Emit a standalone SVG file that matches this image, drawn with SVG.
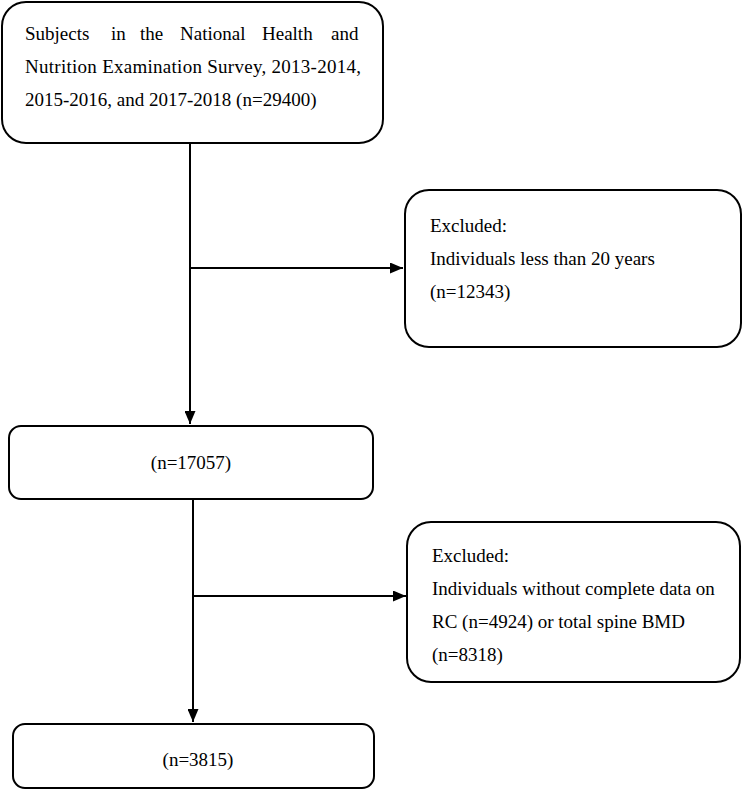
<svg xmlns="http://www.w3.org/2000/svg" width="744" height="790" viewBox="0 0 744 790">
<style>
.box{fill:#fff;stroke:#000;stroke-width:2}
.t{font-family:"Liberation Serif","Times New Roman",serif;font-size:19px;fill:#000}
.c{text-anchor:middle}
.ln{stroke:#000;stroke-width:2;fill:none}
</style>
<defs>
<marker id="ah" markerWidth="13" markerHeight="11" refX="13" refY="5.5" orient="auto" markerUnits="userSpaceOnUse">
<path d="M0,0 L13,5.5 L0,11 Z" fill="#000"/>
</marker>
</defs>
<rect width="744" height="790" fill="#fff"/>
<g id="connectors">
<line class="ln" x1="190" y1="143" x2="190" y2="424" marker-end="url(#ah)"/>
<line class="ln" x1="190" y1="268" x2="403" y2="268" marker-end="url(#ah)"/>
<line class="ln" x1="193" y1="499" x2="193" y2="722" marker-end="url(#ah)"/>
<line class="ln" x1="193" y1="596" x2="406" y2="596" marker-end="url(#ah)"/>
</g>
<g id="n1">
<rect class="box" x="2" y="2" width="381" height="141" rx="24"/>
<text class="t" y="40"><tspan x="25">Subjects</tspan><tspan x="111">in</tspan><tspan x="140">the</tspan><tspan x="180">National</tspan><tspan x="262">Health</tspan><tspan x="331">and</tspan></text>
<text class="t" x="25" y="73" textLength="336" lengthAdjust="spacing">Nutrition Examination Survey, 2013-2014,</text>
<text class="t" x="25" y="106">2015-2016, and 2017-2018 (n=29400)</text>
</g>
<g id="ex1">
<rect class="box" x="405" y="190" width="336" height="157" rx="24"/>
<text class="t" x="430" y="232">Excluded:</text>
<text class="t" x="430" y="265">Individuals less than 20 years</text>
<text class="t" x="430" y="298">(n=12343)</text>
</g>
<g id="n2">
<rect class="box" x="9" y="426" width="364" height="73" rx="12"/>
<text class="t c" x="191" y="469">(n=17057)</text>
</g>
<g id="ex2">
<rect class="box" x="407" y="522" width="333" height="160" rx="24"/>
<text class="t" x="432" y="562">Excluded:</text>
<text class="t" x="432" y="595">Individuals without complete data on</text>
<text class="t" x="432" y="628">RC (n=4924) or total spine BMD</text>
<text class="t" x="432" y="661">(n=8318)</text>
</g>
<g id="n3">
<rect class="box" x="13" y="724" width="361" height="64" rx="12"/>
<text class="t c" x="198" y="766">(n=3815)</text>
</g>
</svg>
